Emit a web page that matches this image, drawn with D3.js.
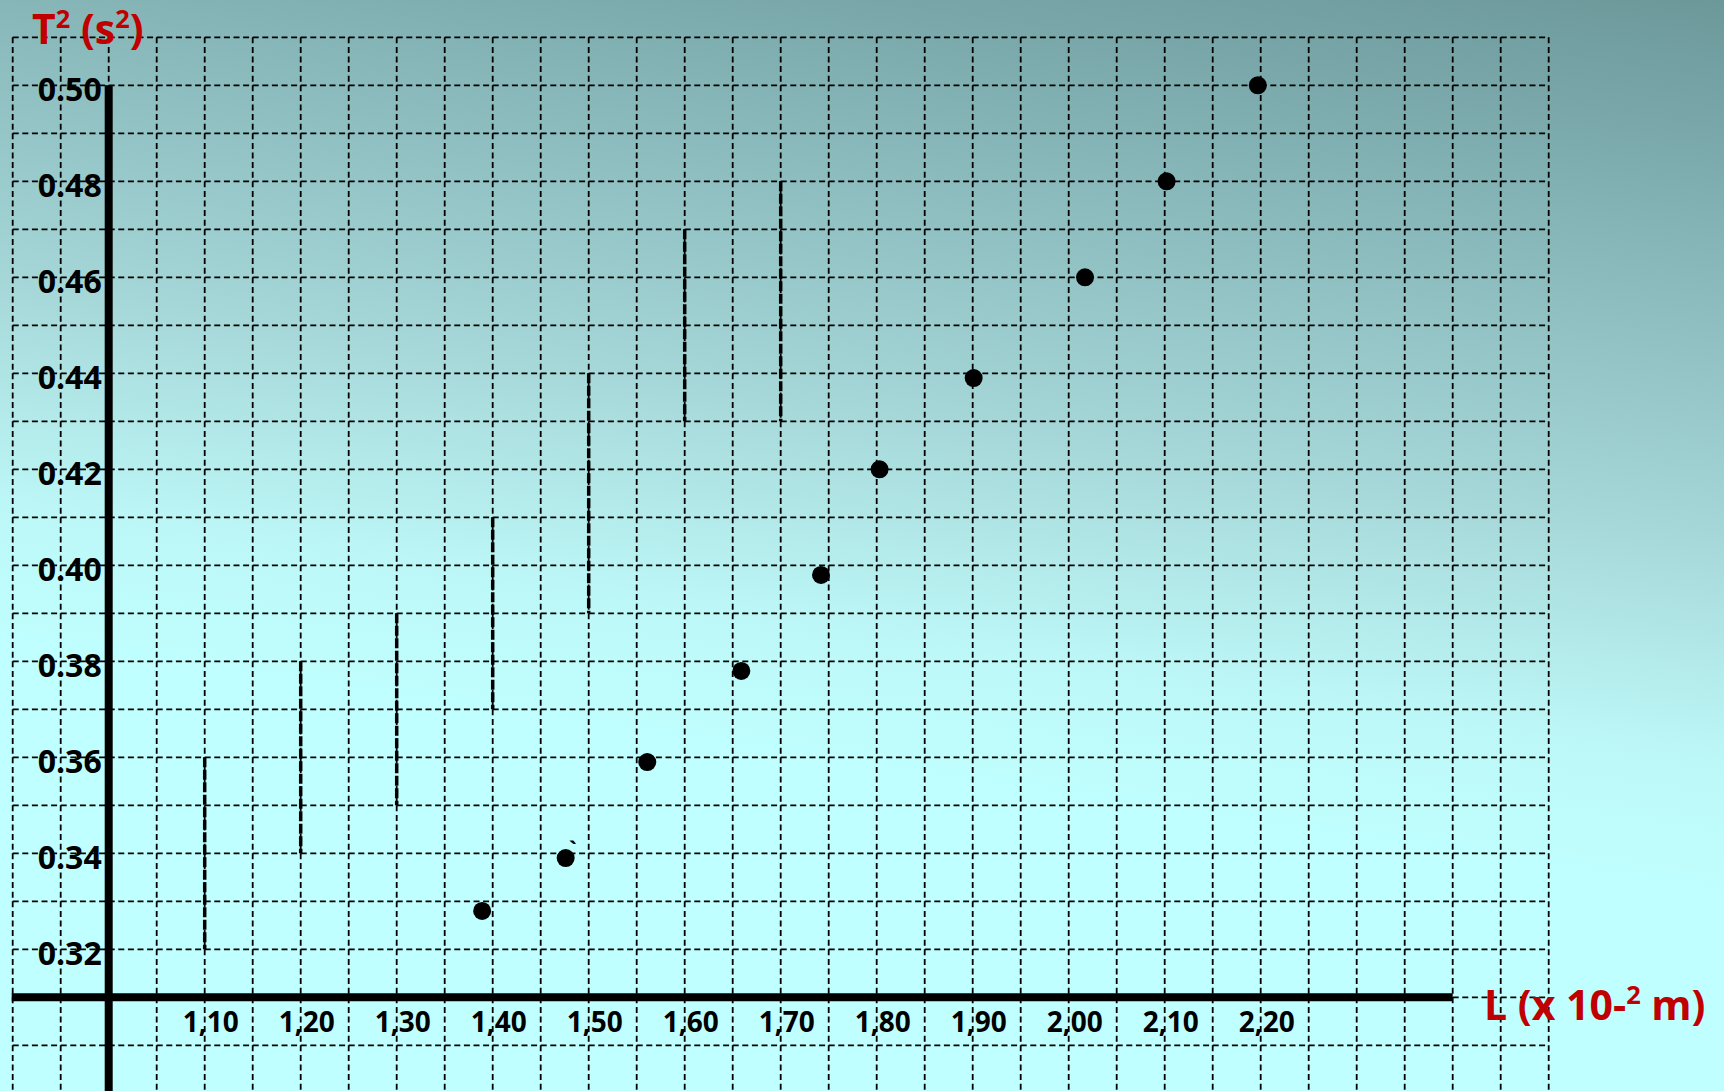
<!DOCTYPE html>
<html><head><meta charset="utf-8">
<script src="https://cdn.jsdelivr.net/npm/d3@7"></script>
<style>html,body{margin:0;padding:0;overflow:hidden;background:#c0ffff}</style>
</head><body><svg id="chart" width="1724" height="1091"></svg>
<script>
// ---- data ----
const lengthValues = [1.389, 1.476, 1.561, 1.659, 1.742, 1.803, 1.901, 2.017, 2.102, 2.197];
const periodSquaredValues = [0.328, 0.339, 0.359, 0.378, 0.398, 0.420, 0.439, 0.460, 0.480, 0.500];
const guideLengths = [1.10, 1.20, 1.30, 1.40, 1.50, 1.60, 1.70];
const guideTops = [0.36, 0.38, 0.39, 0.41, 0.44, 0.47, 0.48];
const guideBottoms = [0.32, 0.34, 0.35, 0.37, 0.39, 0.43, 0.43];
const xTickValues = [1.10, 1.20, 1.30, 1.40, 1.50, 1.60, 1.70, 1.80, 1.90, 2.00, 2.10, 2.20];
const xTickLabels = ["1,10", "1,20", "1,30", "1,40", "1,50", "1,60", "1,70", "1,80", "1,90", "2,00", "2,10", "2,20"];
const yTickValues = [0.50, 0.48, 0.46, 0.44, 0.42, 0.40, 0.38, 0.36, 0.34, 0.32];
const yTickLabels = ["0.50", "0.48", "0.46", "0.44", "0.42", "0.40", "0.38", "0.36", "0.34", "0.32"];
const yTitleParts = [["T", false], ["2", true], [" (s", false], ["2", true], [")", false]];
const xTitleParts = [["L (x 10-", false], ["2", true], [" m)", false]];
const strayMark = "`";

// ---- layout ----
const W = 1724, H = 1091;
const svg = d3.select("#chart");
const x = d3.scaleLinear().domain([0.90, 2.50]).range([12.7, 1548.7]);
const y = d3.scaleLinear().domain([0.30, 0.51]).range([1045.3, 37.3]);
const origin = {L: 1.00, T: 0.31};
const font = "'Open Sans', 'Noto Sans', sans-serif";

// background gradient
const defs = svg.append("defs");
const grad = defs.append("linearGradient").attr("id", "bg")
  .attr("gradientUnits", "userSpaceOnUse")
  .attr("x1", 1724).attr("y1", 0).attr("x2", 1594).attr("y2", 883);
grad.append("stop").attr("offset", 0).attr("stop-color", "#6c989a");
grad.append("stop").attr("offset", 0.28).attr("stop-color", "#86b6b8");
grad.append("stop").attr("offset", 0.6).attr("stop-color", "#a7d8d9");
grad.append("stop").attr("offset", 0.85).attr("stop-color", "#bdf8f8");
grad.append("stop").attr("offset", 1).attr("stop-color", "#c0ffff");
svg.append("rect").attr("width", W).attr("height", H).attr("fill", "url(#bg)");

// grid
const grid = svg.append("g").attr("stroke", "#000").attr("stroke-width", 1.8)
  .attr("stroke-dasharray", "6,3.6").attr("fill", "none");
grid.selectAll("line.h").data(y.ticks(21)).join("line").attr("class", "h")
  .attr("x1", x(0.90)).attr("x2", x(2.50))
  .attr("y1", d => y(d)).attr("y2", d => y(d));
grid.selectAll("line.v").data(x.ticks(32)).join("line").attr("class", "v")
  .attr("x1", d => x(d)).attr("x2", d => x(d))
  .attr("y1", y(0.51)).attr("y2", H);

// guide segments (thicker dashed)
svg.append("g").selectAll("line").data(guideLengths).join("line")
  .attr("x1", d => x(d)).attr("x2", d => x(d))
  .attr("y1", (d, i) => y(guideTops[i])).attr("y2", (d, i) => y(guideBottoms[i]))
  .attr("stroke", "#000").attr("stroke-width", 3.5).attr("stroke-dasharray", "10,2.5");

// axes
svg.append("line").attr("x1", x(0.90) - 1).attr("x2", x(2.40))
  .attr("y1", y(origin.T)).attr("y2", y(origin.T))
  .attr("stroke", "#000").attr("stroke-width", 8);
svg.append("line").attr("x1", x(origin.L)).attr("x2", x(origin.L))
  .attr("y1", y(0.50)).attr("y2", H)
  .attr("stroke", "#000").attr("stroke-width", 8);

// tick labels
svg.append("g").selectAll("text").data(xTickValues).join("text")
  .attr("x", d => x(d) + 6).attr("y", y(origin.T) + 35)
  .attr("text-anchor", "middle")
  .attr("font-family", font).attr("font-weight", 700).attr("font-size", 28)
  .attr("fill", "#000").text((d, i) => xTickLabels[i]);
svg.append("g").selectAll("text").data(yTickValues).join("text")
  .attr("x", x(origin.L) - 7).attr("y", d => y(d) + 4)
  .attr("dy", "0.36em")
  .attr("text-anchor", "end")
  .attr("font-family", font).attr("font-weight", 700).attr("font-size", 32)
  .attr("fill", "#000").text((d, i) => yTickLabels[i]);

// axis titles
function titled(parts, tx, ty, size) {
  const t = svg.append("text").attr("x", tx).attr("y", ty)
    .attr("font-family", font).attr("font-weight", 700).attr("font-size", size)
    .attr("fill", "#c00000");
  parts.forEach(([s, sup]) => {
    const sp = t.append("tspan").text(s);
    if (sup) sp.attr("font-size", size * 0.62).attr("dy", -size * 0.38);
    else sp.attr("dy", 0);
  });
  let shifted = false;
  t.selectAll("tspan").each(function(d, i) {
    const sup = parts[i][1];
    if (sup) { shifted = true; }
    else if (shifted) { d3.select(this).attr("dy", size * 0.38); shifted = false; }
  });
  return t;
}
titled(yTitleParts, 32, 44, 41);
titled(xTitleParts, 1484, 1020, 41);

// points
svg.append("g").selectAll("circle").data(lengthValues).join("circle")
  .attr("cx", d => x(d)).attr("cy", (d, i) => y(periodSquaredValues[i]))
  .attr("r", 9).attr("fill", "#000");
svg.append("text").attr("x", x(lengthValues[1]) + 3).attr("y", y(periodSquaredValues[1]) - 1)
  .attr("font-family", font).attr("font-weight", 700).attr("font-size", 22)
  .attr("fill", "#000").text(strayMark);
</script></body></html>
